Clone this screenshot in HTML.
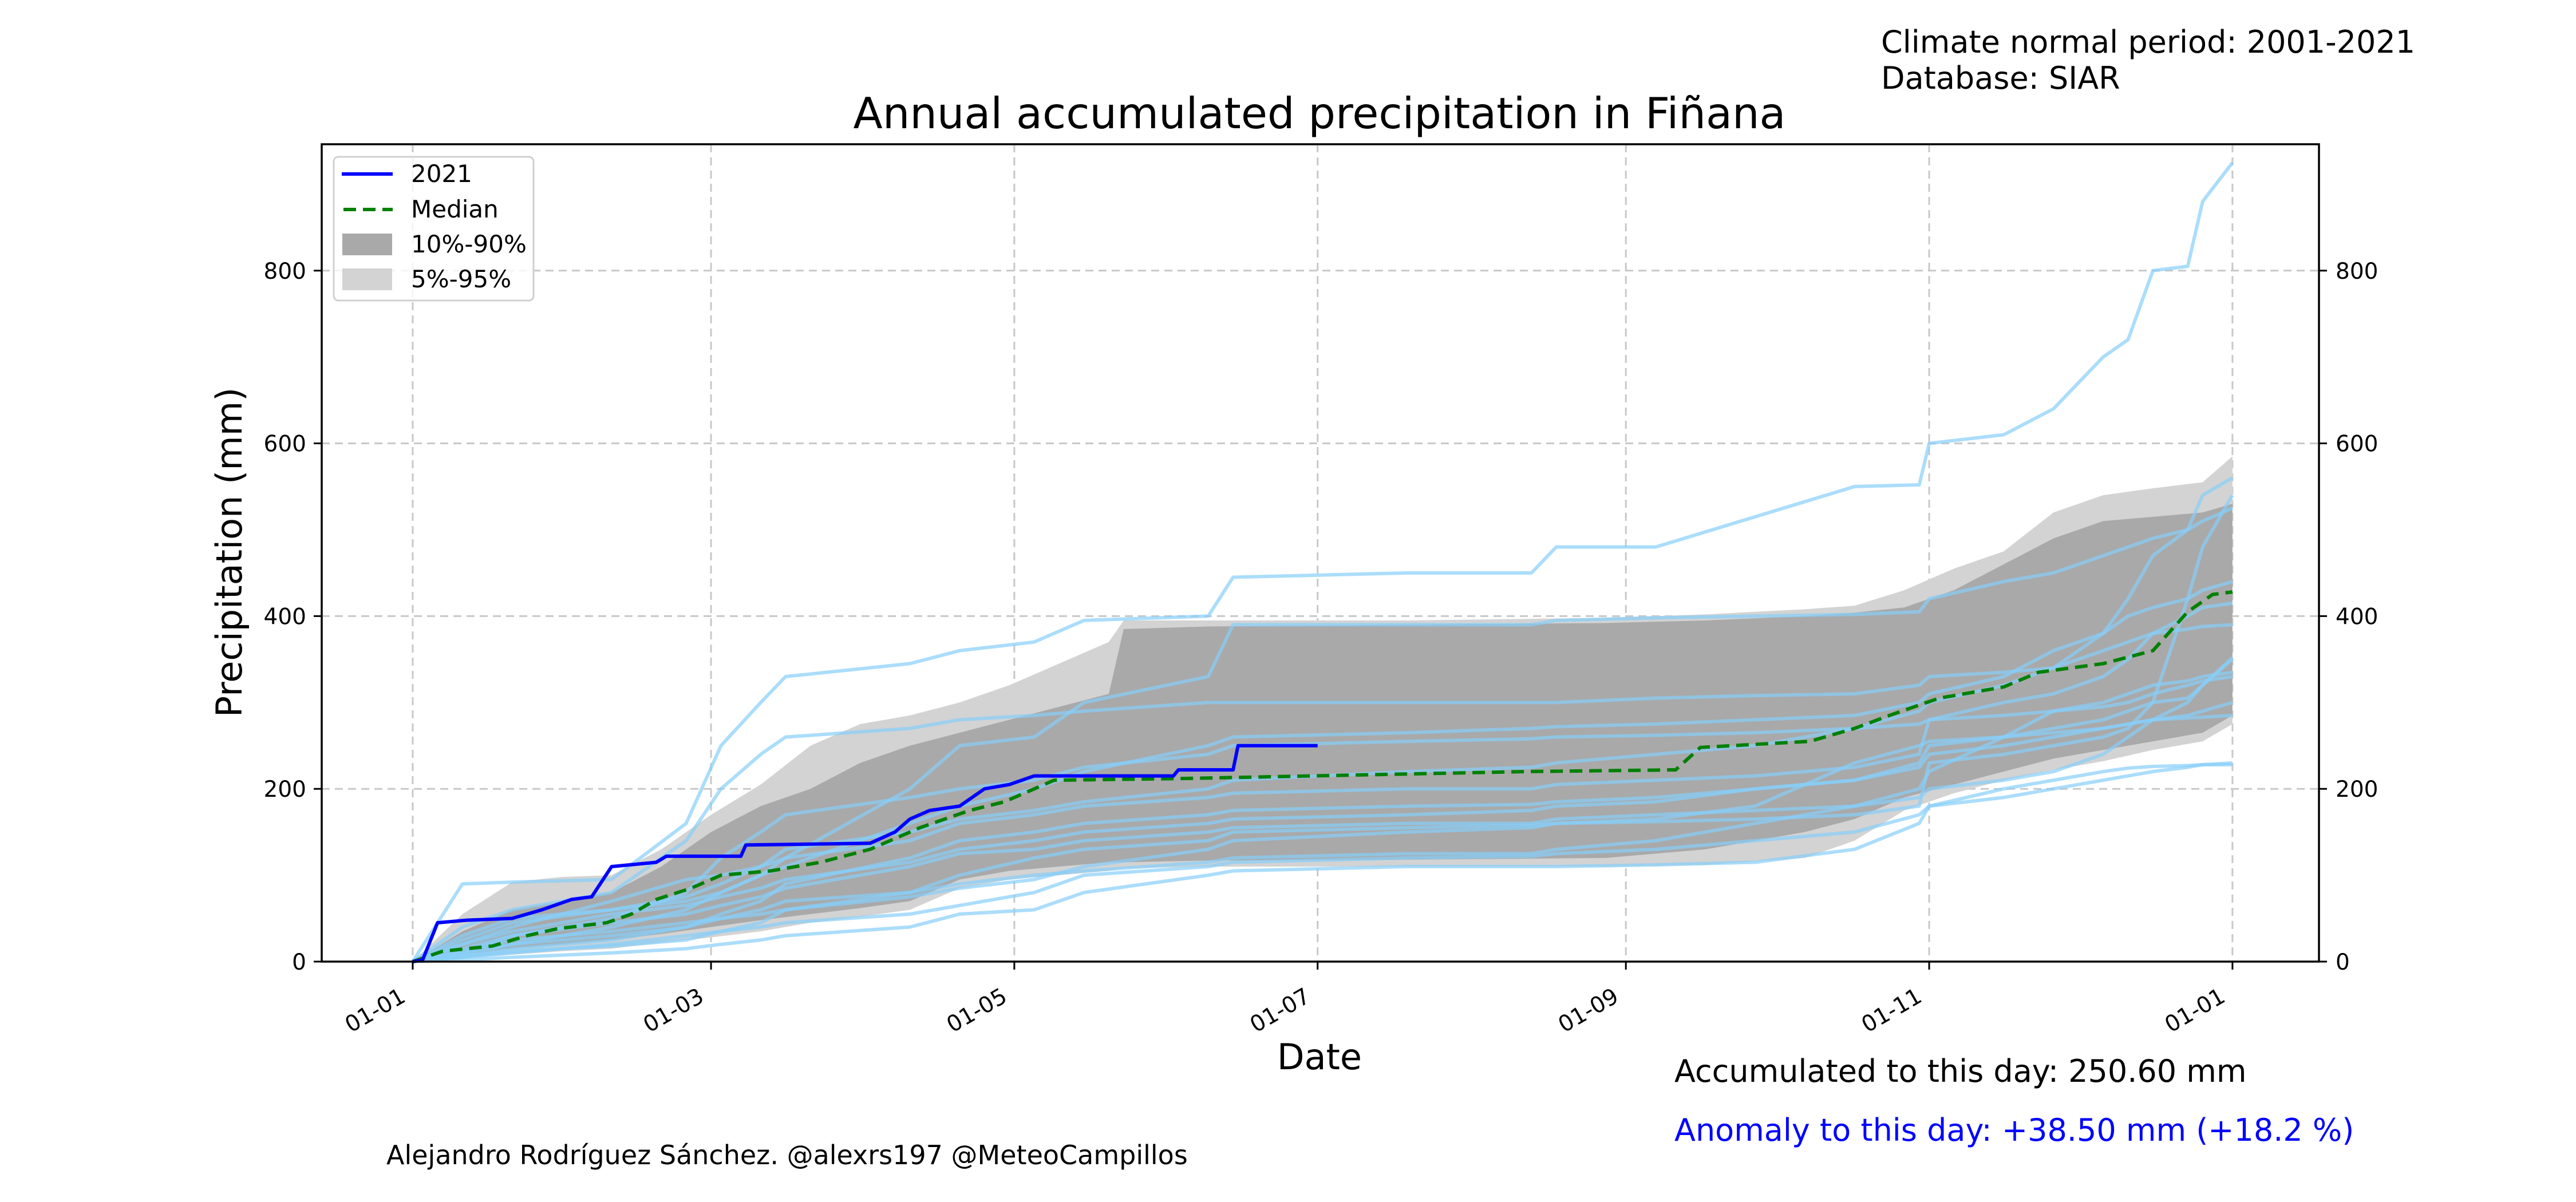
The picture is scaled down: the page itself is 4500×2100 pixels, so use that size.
<!DOCTYPE html>
<html><head><meta charset="utf-8"><style>
html,body{margin:0;padding:0;background:#fff;}
svg{display:block;font-family:"DejaVu Sans","Liberation Sans",sans-serif;}
</style></head><body>
<svg id="chart" width="4500" height="2100" viewBox="0 0 4500 2100" xmlns="http://www.w3.org/2000/svg">
<g id="grid"></g>
<g id="bands"></g>
<g id="years"></g>
<g id="main"></g>
<rect x="562" y="252" width="3489" height="1428" fill="none" stroke="#000" stroke-width="3.5"/>
<g id="axes"></g>
<text x="2305" y="224" font-size="75" text-anchor="middle">Annual accumulated precipitation in Fiñana</text>
<text x="3286" y="92" font-size="54">Climate normal period: 2001-2021</text>
<text x="3286" y="155" font-size="54">Database: SIAR</text>
<text transform="translate(422,965) rotate(-90)" font-size="62" text-anchor="middle">Precipitation (mm)</text>
<text x="2305" y="1868" font-size="62" text-anchor="middle">Date</text>
<text x="2925" y="1890" font-size="54">Accumulated to this day: 250.60 mm</text>
<text x="2925" y="1993" font-size="54" fill="#0000ff">Anomaly to this day: +38.50 mm (+18.2 %)</text>
<text x="675" y="2034" font-size="46">Alejandro Rodríguez Sánchez. @alexrs197 @MeteoCampillos</text>
<g>
<rect x="583" y="274" width="349" height="251" rx="8" fill="#fff" fill-opacity="0.8" stroke="#d0d0d0" stroke-width="3"/>
<line x1="597" y1="304" x2="686" y2="304" stroke="#0000ff" stroke-width="6"/>
<text x="718" y="318" font-size="42">2021</text>
<line x1="600" y1="366" x2="686" y2="366" stroke="#008000" stroke-width="6" stroke-dasharray="22,12"/>
<text x="718" y="380" font-size="42">Median</text>
<rect x="598" y="408" width="87" height="38" fill="#a9a9a9"/>
<text x="718" y="441" font-size="42">10%-90%</text>
<rect x="598" y="469" width="87" height="38" fill="#d3d3d3"/>
<text x="718" y="502" font-size="42">5%-95%</text>
</g>
</svg>
<script>
// ---- data ----
const tickDays = [0, 60, 121, 182, 244, 305, 366];
const tickLabels = ["01-01","01-03","01-05","01-07","01-09","01-11","01-01"];
const yTicks = [0, 200, 400, 600, 800];
const bandDays = [0,10,20,30,40,50,60,70,80,90,100,110,120,130,140,143,160,200,240,260,280,290,300,310,320,330,340,350,360,366];
const p95 = [0,55,92,98,100,130,170,205,250,275,285,300,320,345,370,395,395,395,398,402,408,412,430,455,475,520,540,548,555,585];
const p90 = [0,35,60,70,80,110,150,180,200,230,250,265,280,295,310,385,388,390,392,395,400,404,410,430,460,490,510,515,520,530];
const p10 = [0,8,15,20,25,32,40,48,55,62,70,95,105,110,115,115,117,118,120,130,150,165,190,205,220,235,245,255,265,285];
const p05 = [0,4,8,12,15,22,28,35,45,52,60,85,95,100,105,108,110,110,110,112,120,140,175,195,210,222,232,245,255,275];
const day2021 = [0,2,5,11,20,26,32,36,40,49,51,66,67,92,97,100,104,110,115,120,125,153,154,165,166,182];
const val2021 = [0,2,45,48,50,60,72,75,110,115,122,122,135,137,150,165,175,180,200,205,215,215,222,222,250,250];
const medDays = [0,6,16,23,29,39,44,49,56,62,72,82,92,102,112,119,129,155,224,254,259,281,290,297,307,320,327,340,350,357,362,366];
const medVals = [0,12,18,30,38,45,55,72,85,100,105,115,130,155,175,185,210,212,220,222,248,255,270,285,305,318,335,345,360,405,425,428];
const yearDays = [0,10,20,40,55,62,70,75,100,110,125,135,160,165,200,225,230,250,270,290,303,305,320,330,340,345,350,357,360,366];
const yearSeries = [
 [0,90,92,95,160,250,300,330,345,360,370,395,400,445,450,450,480,480,515,550,552,600,610,640,700,720,800,805,880,925],
 [0,40,60,80,140,200,240,260,270,280,285,290,300,300,300,300,300,305,308,310,320,330,335,340,380,420,470,500,540,560],
 [0,20,40,70,95,100,110,120,200,250,260,300,330,390,390,390,395,398,400,402,405,420,440,450,470,480,490,500,510,525],
 [0,30,50,60,70,80,100,110,160,180,200,220,250,260,265,270,272,275,280,285,300,310,330,360,380,400,410,420,430,440],
 [0,10,20,40,60,80,100,120,140,160,170,180,190,195,200,200,205,210,215,225,240,280,300,310,330,350,380,400,410,415],
 [0,5,15,25,40,55,70,90,120,140,150,160,170,175,180,182,185,190,200,210,230,250,260,270,280,290,300,305,320,352],
 [0,15,30,45,55,65,75,85,110,125,130,140,150,155,160,160,165,170,175,180,190,200,210,220,240,260,280,300,320,350],
 [0,8,20,30,40,50,55,60,75,85,95,110,130,140,150,155,160,165,180,230,250,255,260,265,270,275,280,285,290,300],
 [0,12,25,35,45,50,60,70,80,90,100,105,115,120,125,125,130,140,160,180,200,220,260,290,300,310,320,325,330,335],
 [0,5,10,20,30,35,40,45,55,65,80,100,110,115,120,122,125,130,140,150,170,180,190,200,210,215,220,225,228,230],
 [0,2,5,10,15,20,25,30,40,55,60,80,100,105,110,110,110,112,115,130,160,180,200,210,220,224,226,227,228,228],
 [0,10,30,50,80,120,150,170,190,200,210,225,240,250,255,258,260,262,265,270,275,280,285,290,295,300,310,320,325,330],
 [0,20,35,55,65,75,85,95,115,130,140,150,160,165,170,175,180,185,200,210,225,240,250,260,270,275,280,282,283,285],
 [0,6,12,18,25,35,45,60,80,100,120,130,140,150,155,158,160,162,165,170,180,230,240,250,260,270,300,420,480,540],
 [0,25,45,60,75,90,110,130,150,165,175,185,200,210,220,225,230,240,250,270,290,300,320,340,360,370,380,385,388,390]
];
// ---- scales ----
const X0=562, X1=4051, D0=-18.3, D1=383.4;
const Y0=1680, YPER=1.509;
function xs(d){return X0+(d-D0)*(X1-X0)/(D1-D0);}
function ys(v){return Y0-v*YPER;}
const NS="http://www.w3.org/2000/svg";
function mk(tag,attrs,parent){const e=document.createElementNS(NS,tag);for(const k in attrs)e.setAttribute(k,attrs[k]);parent.appendChild(e);return e;}
const grid=document.getElementById('grid'), bands=document.getElementById('bands'), years=document.getElementById('years'), main=document.getElementById('main'), axes=document.getElementById('axes');
tickDays.forEach((d,i)=>{
  const g=mk('line',{x1:xs(d),x2:xs(d),y1:252,y2:1680,stroke:'#c8c8c8','stroke-width':3,'stroke-dasharray':'14,9'},grid);
  
  
  const t=mk('line',{x1:xs(d),x2:xs(d),y1:1680,y2:1694,stroke:'#000','stroke-width':3},axes);
  
  
  const lb=mk('text',{transform:`translate(${xs(d)-24},${1724}) rotate(-30)`,'font-size':39,'text-anchor':'end','dominant-baseline':'hanging'},axes);
  lb.textContent=tickLabels[i];
  
  
});
yTicks.forEach(v=>{
  const g=mk('line',{x1:562,x2:4051,y1:ys(v),y2:ys(v),stroke:'#c8c8c8','stroke-width':3,'stroke-dasharray':'14,9'},grid);
  
  
  const t1=mk('line',{x1:548,x2:562,y1:ys(v),y2:ys(v),stroke:'#000','stroke-width':3},axes);
  
  
  const t2=mk('line',{x1:4051,x2:4065,y1:ys(v),y2:ys(v),stroke:'#000','stroke-width':3},axes);
  
  
  const l1=mk('text',{x:535,y:ys(v)+14,'font-size':39,'text-anchor':'end'},axes);
  l1.textContent=v;
  
  
  const l2=mk('text',{x:4080,y:ys(v)+14,'font-size':39},axes);
  l2.textContent=v;
  
  
});
function band(lo,hi,fill,name){
  let p=bandDays.map((d,i)=>xs(d)+','+ys(hi[i]));
  let q=bandDays.map((d,i)=>xs(d)+','+ys(lo[i])).reverse();
  const e=mk('polygon',{points:p.concat(q).join(' '),fill:fill},bands);
  
  
}
band(p05,p95,'#d3d3d3','band-5-95');
band(p10,p90,'#a9a9a9','band-10-90');
yearSeries.forEach(s=>{
  const e=mk('polyline',{points:yearDays.map((d,i)=>xs(d)+','+ys(s[i])).join(' '),fill:'none',stroke:'#87cefa','stroke-opacity':0.7,'stroke-width':6,'stroke-linejoin':'round'},years);
  
  
});
const med=mk('polyline',{points:medDays.map((d,i)=>xs(d)+','+ys(medVals[i])).join(' '),fill:'none',stroke:'#008000','stroke-width':6,'stroke-dasharray':'22,12'},main);


const cur=mk('polyline',{points:day2021.map((d,i)=>xs(d)+','+ys(val2021[i])).join(' '),fill:'none',stroke:'#0000ff','stroke-width':6,'stroke-linejoin':'round'},main);


</script>
</body></html>
